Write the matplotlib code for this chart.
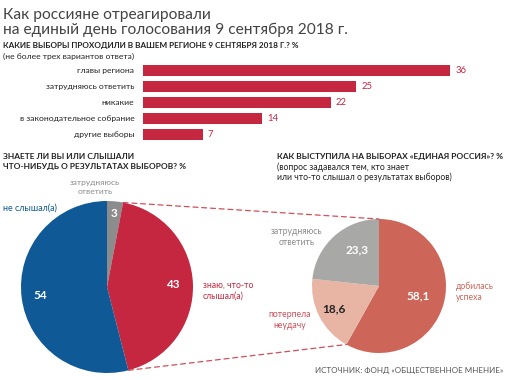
import numpy as np
import matplotlib
matplotlib.use('Agg')
import matplotlib.pyplot as plt
from matplotlib.patches import ConnectionPatch

plt.rcParams['font.family'] = ['Lato', 'DejaVu Sans']

# data
bar_labels = ['главы региона', 'затрудняюсь ответить', 'никакие',
              'в законодательное собрание', 'другие выборы']
bar_values = [36, 25, 22, 14, 7]

pie1_labels = ['затрудняюсь\nответить', 'знаю, что-то\nслышал(а)', 'не слышал(а)']
pie1_values = [3, 43, 54]
pie1_text = ['3', '43', '54']

pie2_labels = ['добилась\nуспеха', 'потерпела\nнеудачу', 'затрудняюсь\nответить']
pie2_values = [58.1, 18.6, 23.3]
pie2_text = ['58,1', '18,6', '23,3']

RED = '#C4273F'
BLUE = '#0F5A96'
GRAY = '#8C8C8C'
RED2 = '#CD6658'
PINK = '#E8B5A4'
GRAY2 = '#A8A8A7'
DARK = '#222222'

W, H = 508, 380
fig = plt.figure(figsize=(W / 100, H / 100), dpi=100)


def px(x, y):
    return x / W, 1 - y / H


def add_ax(left, top, width, height):
    return fig.add_axes([left / W, 1 - (top + height) / H, width / W, height / H])


# titles
fig.text(*px(3, 19), 'Как россияне отреагировали', fontsize=11.2, color='#444444')
fig.text(*px(3, 34), 'на единый день голосования 9 сентября 2018 г.', fontsize=11.2,
         color='#444444')
fig.text(*px(3, 48), 'КАКИЕ ВЫБОРЫ ПРОХОДИЛИ В ВАШЕМ РЕГИОНЕ 9 СЕНТЯБРЯ 2018 Г.? %',
         fontsize=5.85, weight='bold', color=DARK)
fig.text(*px(3, 59), '(не более трех вариантов ответа)', fontsize=6.1, color=DARK)

# bars
ax = add_ax(143, 62.5, 307, 80)
y = np.arange(len(bar_values))
ax.barh(y, bar_values, height=0.69, color=RED)
ax.set_xlim(0, 36)
ax.set_ylim(4.5, -0.5)
ax.axis('off')
for i, (lab, v) in enumerate(zip(bar_labels, bar_values)):
    ax.text(-1, i, lab, ha='right', va='center', fontsize=6.1, color=DARK)
    ax.text(v + 0.6, i, str(v), ha='left', va='center', fontsize=6.8, color=RED)

# pie 1
ax1 = add_ax(107 - 86, 287 - 86, 172, 172)
w1, _ = ax1.pie(pie1_values, colors=[GRAY, RED, BLUE], startangle=90, counterclock=False,
                radius=1, wedgeprops=dict(linewidth=0))
ax1.set_xlim(-1, 1)
ax1.set_ylim(-1, 1)
ax1.set_aspect('equal')
ax1.axis('off')
for w, t, r in zip(w1, pie1_text, [0.86, 0.77, 0.78]):
    a = np.deg2rad((w.theta1 + w.theta2) / 2)
    ax1.text(r * np.cos(a), r * np.sin(a), t, ha='center', va='center',
             fontsize=8.5, weight='bold', color='white')

fig.text(*px(3, 159), 'ЗНАЕТЕ ЛИ ВЫ ИЛИ СЛЫШАЛИ', fontsize=6.0, weight='bold', color=DARK)
fig.text(*px(3, 169.5), 'ЧТО-НИБУДЬ О РЕЗУЛЬТАТАХ ВЫБОРОВ? %', fontsize=6.0, weight='bold',
         color=DARK)
fig.text(*px(95, 187), pie1_labels[0], ha='center', va='center', fontsize=6.0,
         color=GRAY, linespacing=1.2)
fig.text(*px(203, 291), pie1_labels[1], ha='left', va='center', fontsize=6.2,
         color=RED, linespacing=1.3)
fig.text(*px(3, 208), pie1_labels[2], ha='left', va='center', fontsize=6.4, color=BLUE)

# pie 2
ax2 = add_ax(379 - 67, 286 - 67, 134, 134)
w2, _ = ax2.pie(pie2_values, colors=[RED2, PINK, GRAY2], startangle=90, counterclock=False,
                radius=1, wedgeprops=dict(linewidth=0))
ax2.set_xlim(-1, 1)
ax2.set_ylim(-1, 1)
ax2.set_aspect('equal')
ax2.axis('off')
for w, t, r, c in zip(w2, pie2_text, [0.6, 0.75, 0.63], ['white', DARK, 'white']):
    a = np.deg2rad((w.theta1 + w.theta2) / 2)
    if t == '23,3':
        a = np.deg2rad(121)
    ax2.text(r * np.cos(a), r * np.sin(a), t, ha='center', va='center',
             fontsize=8.5, weight='bold', color=c)

fig.text(*px(277, 159), 'КАК ВЫСТУПИЛА НА ВЫБОРАХ «ЕДИНАЯ РОССИЯ»? %', fontsize=6.0,
         weight='bold', color=DARK)
fig.text(*px(277, 169.5), '(вопрос задавался тем, кто знает', fontsize=6.2, color=DARK)
fig.text(*px(277, 179.5), 'или что-то слышал о результатах выборов)', fontsize=6.2, color=DARK)
fig.text(*px(297, 237), pie2_labels[2], ha='center', va='center', fontsize=6.2,
         color=GRAY, linespacing=1.3)
fig.text(*px(456, 292), pie2_labels[0], ha='left', va='center', fontsize=6.2,
         color=RED2, linespacing=1.3)
fig.text(*px(290, 320), pie2_labels[1], ha='center', va='center', fontsize=6.2,
         color='#D0505A', linespacing=1.3)

# dashed connectors: red slice of pie 1 -> red slice of pie 2
red1 = w1[1]
red2 = w2[0]
for a1, a2 in [(red1.theta2, red2.theta2), (red1.theta1, red2.theta1)]:
    p1 = (np.cos(np.deg2rad(a1)), np.sin(np.deg2rad(a1)))
    p2 = (np.cos(np.deg2rad(a2)), np.sin(np.deg2rad(a2)))
    con = ConnectionPatch(xyA=p1, coordsA=ax1.transData, xyB=p2, coordsB=ax2.transData,
                          color='#D0505A', linestyle=(0, (4, 3)), linewidth=0.9)
    fig.add_artist(con)

fig.text(*px(503, 371), 'ИСТОЧНИК: ФОНД «ОБЩЕСТВЕННОЕ МНЕНИЕ»', ha='right', va='center',
         fontsize=5.75, color='#555555')

fig.savefig('out.png', dpi=100)
